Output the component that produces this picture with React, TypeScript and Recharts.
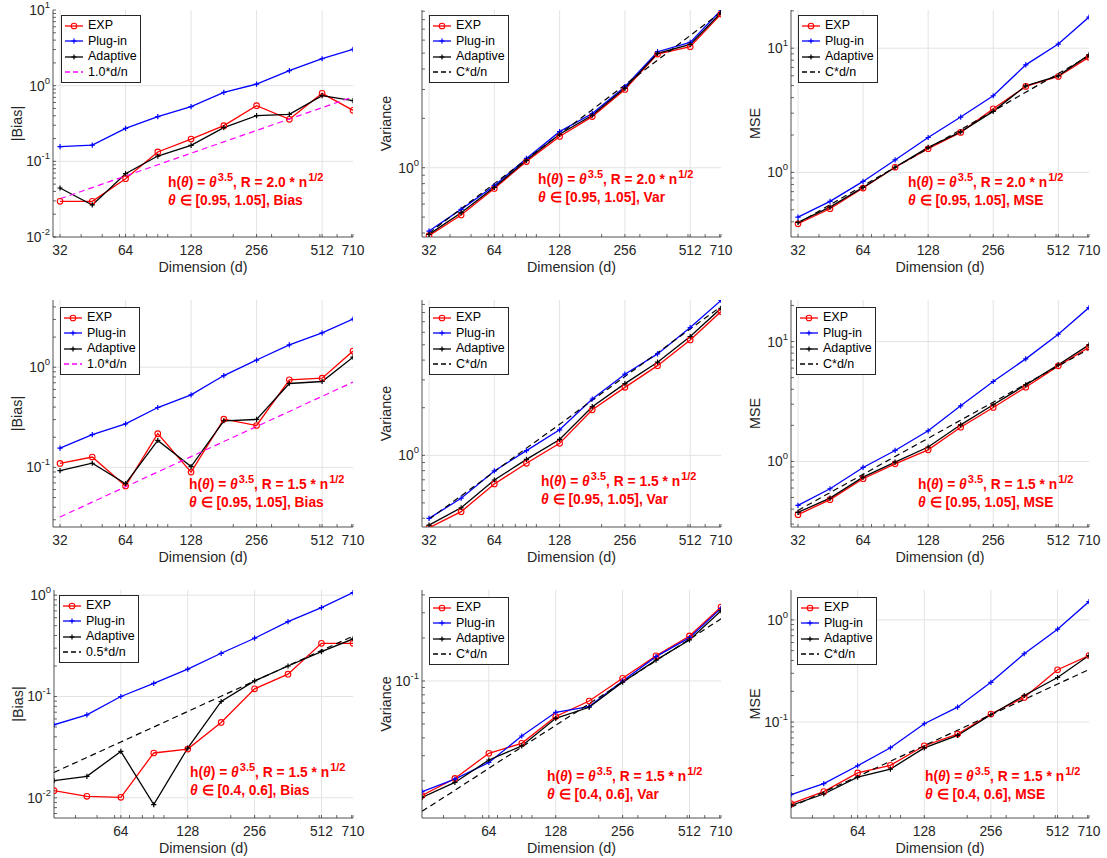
import React from 'react';
import { LineChart, Line, XAxis, YAxis, ReferenceLine, Legend } from 'recharts';

// ---------------- data ----------------
const DIMS = [32, 45, 64, 90, 128, 181, 256, 362, 512, 710];
const X_LABELS_FULL = [32, 64, 128, 256, 512, 710];
const X_LABELS_NO32 = [64, 128, 256, 512, 710];
const X_MINOR = [40, 50, 60, 70, 80, 90, 100, 200, 300, 400, 500, 600, 700];

// Row 1: R = 2.0, theta in [0.95, 1.05]
const A_EXP = [0.0296, 0.0297, 0.059, 0.133, 0.197, 0.296, 0.544, 0.359, 0.792, 0.472];
const A_PLUG = [0.156, 0.164, 0.273, 0.389, 0.528, 0.817, 1.05, 1.58, 2.27, 3.02];
const A_ADAPT = [0.0444, 0.0265, 0.0687, 0.1175, 0.163, 0.279, 0.401, 0.418, 0.738, 0.634];
const A_REF = [0.032, 0.045, 0.064, 0.09, 0.128, 0.181, 0.256, 0.362, 0.512, 0.71];

const B_EXP = [0.385, 0.515, 0.748, 1.09, 1.55, 2.05, 3.0, 4.93, 5.47, 8.65];
const B_PLUG = [0.411, 0.557, 0.777, 1.14, 1.66, 2.14, 3.12, 5.1, 5.81, 9.15];
const B_ADAPT = [0.392, 0.532, 0.759, 1.11, 1.6, 2.09, 3.06, 4.98, 5.65, 8.81];
const B_REF = [0.4, 0.5625, 0.8, 1.125, 1.6, 2.26, 3.2, 4.53, 6.4, 8.88];

const C_EXP = [0.386, 0.51, 0.748, 1.1, 1.55, 2.1, 3.25, 4.92, 5.92, 8.47];
const C_PLUG = [0.437, 0.585, 0.846, 1.26, 1.91, 2.79, 4.14, 7.34, 10.8, 17.8];
const C_ADAPT = [0.396, 0.526, 0.757, 1.1, 1.59, 2.12, 3.1, 4.98, 5.99, 8.84];
const C_REF = [0.39, 0.55, 0.78, 1.1, 1.56, 2.21, 3.12, 4.42, 6.25, 8.66];

// Row 2: R = 1.5, theta in [0.95, 1.05]
const D_EXP = [0.1096, 0.127, 0.0652, 0.217, 0.0898, 0.303, 0.262, 0.748, 0.777, 1.45];
const D_PLUG = [0.156, 0.212, 0.272, 0.396, 0.53, 0.826, 1.18, 1.67, 2.2, 3.03];
const D_ADAPT = [0.0927, 0.11, 0.0687, 0.186, 0.102, 0.292, 0.301, 0.688, 0.72, 1.26];
const D_REF = [0.032, 0.045, 0.064, 0.09, 0.128, 0.181, 0.256, 0.362, 0.512, 0.71];

const E_EXP = [0.348, 0.44, 0.659, 0.89, 1.19, 1.94, 2.69, 3.69, 5.37, 8.11];
const E_PLUG = [0.399, 0.535, 0.796, 1.07, 1.45, 2.27, 3.26, 4.38, 6.43, 9.53];
const E_ADAPT = [0.362, 0.466, 0.698, 0.943, 1.26, 2.03, 2.84, 3.88, 5.64, 8.51];
const E_REF = [0.394, 0.554, 0.787, 1.11, 1.57, 2.23, 3.15, 4.45, 6.3, 8.73];

const F_EXP = [0.36, 0.48, 0.717, 0.956, 1.25, 1.93, 2.82, 4.16, 6.27, 8.97];
const F_PLUG = [0.43, 0.592, 0.891, 1.235, 1.8, 2.91, 4.64, 7.17, 11.5, 19.2];
const F_ADAPT = [0.376, 0.495, 0.74, 0.987, 1.32, 2.02, 2.97, 4.35, 6.4, 9.38];
const F_REF = [0.39, 0.55, 0.78, 1.1, 1.56, 2.21, 3.12, 4.42, 6.25, 8.66];

// Row 3: R = 1.5, theta in [0.4, 0.6]
const G_EXP = [0.01177, 0.01035, 0.0101, 0.0277, 0.0303, 0.0555, 0.119, 0.166, 0.335, 0.335];
const G_PLUG = [0.0526, 0.0659, 0.1, 0.135, 0.186, 0.267, 0.376, 0.548, 0.753, 1.06];
const G_ADAPT = [0.01476, 0.0163, 0.0287, 0.00858, 0.031, 0.0893, 0.1426, 0.2, 0.277, 0.37];
const G_REF = [0.0178, 0.025, 0.0356, 0.05, 0.0712, 0.1006, 0.142, 0.201, 0.285, 0.394];

const H_EXP = [0.0158, 0.0208, 0.0312, 0.0366, 0.0564, 0.0724, 0.1044, 0.15, 0.2066, 0.329];
const H_PLUG = [0.0168, 0.0206, 0.0269, 0.0412, 0.0604, 0.0662, 0.1, 0.148, 0.201, 0.322];
const H_ADAPT = [0.0153, 0.0195, 0.028, 0.0351, 0.0548, 0.0655, 0.098, 0.14, 0.1936, 0.309];
const H_REF = [0.01225, 0.0172, 0.0245, 0.0345, 0.049, 0.0693, 0.098, 0.1387, 0.196, 0.272];

const I_EXP = [0.0159, 0.0209, 0.0318, 0.0378, 0.0587, 0.0763, 0.12, 0.174, 0.325, 0.448];
const I_PLUG = [0.0195, 0.025, 0.0374, 0.0561, 0.0964, 0.14, 0.245, 0.466, 0.811, 1.51];
const I_ADAPT = [0.01534, 0.0198, 0.029, 0.0347, 0.056, 0.074, 0.118, 0.182, 0.273, 0.448];
const I_REF = [0.0147, 0.0207, 0.0294, 0.0414, 0.0589, 0.0833, 0.1178, 0.1665, 0.2355, 0.3266];

// ---------------- style ----------------
const FONT = '"Liberation Sans", Arial, Helvetica, sans-serif';
const AX = '#262626';
const GRID = '#e3e3e3';
const RED = '#ff0000';
const BLUE = '#0000ff';
const BLACK = '#000000';
const MAGENTA = '#ff00ff';
const ML = 50, MT = 10, MR = 12, MB = 45;

type Panel = {
  key: string; left: number; top: number; w: number; h: number;
  xDomain: [number, number]; xLabels: number[];
  yDomain: [number, number]; yLabel: string;
  exp: number[]; plug: number[]; adapt: number[]; ref: number[];
  refName: string; refColor: string;
  r: string; range: string; kind: string;
  leg: [number, number]; ann: [number, number];
};

const X_ROW12: [number, number] = [29.7, 710];
const X_ROW3: [number, number] = [32, 710];

const PANELS: Panel[] = [
  { key: 'A', left: 53, top: 10, w: 300, h: 227, xDomain: X_ROW12, xLabels: X_LABELS_FULL, yDomain: [0.01, 10], yLabel: '|Bias|',
    exp: A_EXP, plug: A_PLUG, adapt: A_ADAPT, ref: A_REF, refName: '1.0*d/n', refColor: MAGENTA, r: '2.0', range: '[0.95, 1.05]', kind: 'Bias', leg: [8, 5], ann: [115, 173] },
  { key: 'B', left: 422, top: 10, w: 299, h: 227, xDomain: X_ROW12, xLabels: X_LABELS_FULL, yDomain: [0.378, 9.16], yLabel: 'Variance',
    exp: B_EXP, plug: B_PLUG, adapt: B_ADAPT, ref: B_REF, refName: 'C*d/n', refColor: BLACK, r: '2.0', range: '[0.95, 1.05]', kind: 'Var', leg: [7, 5], ann: [116, 170] },
  { key: 'C', left: 791, top: 10, w: 298, h: 227, xDomain: X_ROW12, xLabels: X_LABELS_FULL, yDomain: [0.302, 20.3], yLabel: 'MSE',
    exp: C_EXP, plug: C_PLUG, adapt: C_ADAPT, ref: C_REF, refName: 'C*d/n', refColor: BLACK, r: '2.0', range: '[0.95, 1.05]', kind: 'MSE', leg: [7, 5], ann: [117, 173] },
  { key: 'D', left: 53, top: 300, w: 300, h: 227, xDomain: X_ROW12, xLabels: X_LABELS_FULL, yDomain: [0.0254, 4.69], yLabel: '|Bias|',
    exp: D_EXP, plug: D_PLUG, adapt: D_ADAPT, ref: D_REF, refName: '1.0*d/n', refColor: MAGENTA, r: '1.5', range: '[0.95, 1.05]', kind: 'Bias', leg: [7, 7], ann: [136, 185] },
  { key: 'E', left: 422, top: 300, w: 299, h: 227, xDomain: X_ROW12, xLabels: X_LABELS_FULL, yDomain: [0.352, 9.6], yLabel: 'Variance',
    exp: E_EXP, plug: E_PLUG, adapt: E_ADAPT, ref: E_REF, refName: 'C*d/n', refColor: BLACK, r: '1.5', range: '[0.95, 1.05]', kind: 'Var', leg: [7, 7], ann: [119, 182] },
  { key: 'F', left: 791, top: 300, w: 298, h: 227, xDomain: X_ROW12, xLabels: X_LABELS_FULL, yDomain: [0.284, 22.2], yLabel: 'MSE',
    exp: F_EXP, plug: F_PLUG, adapt: F_ADAPT, ref: F_REF, refName: 'C*d/n', refColor: BLACK, r: '1.5', range: '[0.95, 1.05]', kind: 'MSE', leg: [5, 7], ann: [127, 185] },
  { key: 'G', left: 54, top: 590, w: 299, h: 228, xDomain: X_ROW3, xLabels: X_LABELS_NO32, yDomain: [0.00632, 1.125], yLabel: '|Bias|',
    exp: G_EXP, plug: G_PLUG, adapt: G_ADAPT, ref: G_REF, refName: '0.5*d/n', refColor: BLACK, r: '1.5', range: '[0.4, 0.6]', kind: 'Bias', leg: [5, 5], ann: [136, 183] },
  { key: 'H', left: 422, top: 590, w: 299, h: 228, xDomain: X_ROW3, xLabels: X_LABELS_NO32, yDomain: [0.011, 0.433], yLabel: 'Variance',
    exp: H_EXP, plug: H_PLUG, adapt: H_ADAPT, ref: H_REF, refName: 'C*d/n', refColor: BLACK, r: '1.5', range: '[0.4, 0.6]', kind: 'Var', leg: [7, 7], ann: [125, 187] },
  { key: 'I', left: 791, top: 590, w: 298, h: 228, xDomain: X_ROW3, xLabels: X_LABELS_NO32, yDomain: [0.01153, 1.96], yLabel: 'MSE',
    exp: I_EXP, plug: I_PLUG, adapt: I_ADAPT, ref: I_REF, refName: 'C*d/n', refColor: BLACK, r: '1.5', range: '[0.4, 0.6]', kind: 'MSE', leg: [6, 7], ann: [134, 187] },
];

// ---------------- helpers ----------------
const near = (a: number, b: number) => Math.abs(a - b) <= 1e-9 * Math.max(1, Math.abs(b));
const isDecade = (v: number) => { const l = Math.log10(v); return Math.abs(l - Math.round(l)) < 1e-6; };

function yTicks(lo: number, hi: number) {
  const out: number[] = [];
  for (let e = Math.floor(Math.log10(lo)); e <= Math.ceil(Math.log10(hi)); e++) {
    for (let m = 1; m <= 9; m++) {
      const v = m * Math.pow(10, e);
      if (v >= lo * 0.9999 && v <= hi * 1.0001) out.push(v);
    }
  }
  return out;
}
function xTicks(dom: [number, number], labels: number[]) {
  return [...labels, ...X_MINOR].filter(v => v >= dom[0] && v <= dom[1]).sort((a, b) => a - b);
}

const circleDot = (color: string) => (p: any) =>
  <circle key={`c${p.index}`} cx={p.cx} cy={p.cy} r={2.8} fill="none" stroke={color} strokeWidth={1.1} />;
const plusDot = (color: string) => (p: any) =>
  <path key={`p${p.index}`} d={`M${p.cx - 2.6},${p.cy}H${p.cx + 2.6}M${p.cx},${p.cy - 2.6}V${p.cy + 2.6}`} stroke={color} strokeWidth={1.2} fill="none" />;

const makeBottomTick = (labels: number[]) => (props: any) => {
  const { x, y, payload } = props;
  const v = payload.value;
  const lab = labels.some(l => near(l, v));
  return (
    <g>
      <line x1={x} x2={x} y1={y} y2={y - 3} stroke={AX} strokeWidth={0.7} />
      {lab && <text x={x} y={y + 18} textAnchor="middle" fontFamily={FONT} fontSize={13.8} fill={AX}>{v}</text>}
    </g>
  );
};
const TopTick = (props: any) => {
  const { x, y } = props;
  return <line x1={x} x2={x} y1={y} y2={y + 3} stroke={AX} strokeWidth={0.7} />;
};
const LeftTick = (props: any) => {
  const { x, y, payload } = props;
  const v = payload.value;
  const major = isDecade(v);
  const e = Math.round(Math.log10(v));
  return (
    <g>
      <line x1={x} x2={x + 3} y1={y} y2={y} stroke={AX} strokeWidth={0.7} />
      {major && (
        <text x={x - 3} y={y + 5} textAnchor="end" fontFamily={FONT} fontSize={13.8} fill={AX}>
          <tspan>10</tspan>
          <tspan dy={-7} fontSize={9.5}>{e}</tspan>
        </text>
      )}
    </g>
  );
};
const RightTick = (props: any) => {
  const { x, y } = props;
  return <line x1={x} x2={x - 3} y1={y} y2={y} stroke={AX} strokeWidth={0.7} />;
};

const LegendSample = ({ color, marker, dashed }: { color: string; marker: 'o' | '+' | null; dashed?: boolean }) => (
  <svg width={18} height={10} style={{ display: 'block' }}>
    <line x1={0} x2={18} y1={5} y2={5} stroke={color} strokeWidth={1.3} strokeDasharray={dashed ? '5 3' : undefined} />
    {marker === 'o' && <circle cx={9} cy={5} r={2.8} fill="none" stroke={color} strokeWidth={1.1} />}
    {marker === '+' && <path d="M6.4,5H11.6M9,2.4V7.6" stroke={color} strokeWidth={1.2} />}
  </svg>
);

const LegendBox = ({ p }: { p: Panel }) => {
  const items = [
    { name: 'EXP', color: RED, marker: 'o' as const },
    { name: 'Plug-in', color: BLUE, marker: '+' as const },
    { name: 'Adaptive', color: BLACK, marker: '+' as const },
    { name: p.refName, color: p.refColor, marker: null, dashed: true },
  ];
  return (
    <div style={{ border: `1px solid ${AX}`, background: '#fff', padding: '2px 3px 2px 3px', fontFamily: FONT, fontSize: 12.5, color: '#000', lineHeight: '15.5px' }}>
      {items.map(it => (
        <div key={it.name} style={{ display: 'flex', alignItems: 'center', height: 15.5 }}>
          <LegendSample color={it.color} marker={it.marker} dashed={(it as any).dashed} />
          <span style={{ marginLeft: 5, whiteSpace: 'nowrap' }}>{it.name}</span>
        </div>
      ))}
    </div>
  );
};

const SUP: React.CSSProperties = { fontSize: '0.8em', position: 'relative', top: '-0.5em', verticalAlign: 'baseline', marginLeft: 1 };

function PanelChart({ p }: { p: Panel }) {
  const W = p.w + ML + MR;
  const H = p.h + MT + MB;
  const rows = DIMS.map((d, i) => ({ d, exp: p.exp[i], plug: p.plug[i], adapt: p.adapt[i], ref: p.ref[i] }));
  const xt = xTicks(p.xDomain, p.xLabels);
  const yt = yTicks(p.yDomain[0], p.yDomain[1]);
  const xGrid = (p.xDomain[0] < 32 ? X_LABELS_FULL : X_LABELS_NO32).filter(v => v > p.xDomain[0] && v < p.xDomain[1]);
  const yGrid = yt.filter(v => isDecade(v) && v > p.yDomain[0] * 1.001 && v < p.yDomain[1] * 0.999);
  const cx = ML + p.w / 2;
  const cy = MT + p.h / 2;
  return (
    <div style={{ position: 'absolute', left: p.left - ML, top: p.top - MT, width: W, height: H }}>
      <LineChart width={W} height={H} data={rows} margin={{ top: MT, right: MR, left: 0, bottom: 0 }}>
        <XAxis dataKey="d" type="number" scale="log" domain={p.xDomain} allowDataOverflow ticks={xt} interval={0}
          height={MB} tickSize={0} tickMargin={0} tickLine={false} axisLine={{ stroke: AX, strokeWidth: 0.8 }}
          tick={makeBottomTick(p.xLabels)}
          label={() => <text x={cx} y={MT + p.h + 35} textAnchor="middle" fontFamily={FONT} fontSize={14.3} fill={AX}>Dimension (d)</text>} />
        <XAxis xAxisId="top" orientation="top" dataKey="d" type="number" scale="log" domain={p.xDomain} allowDataOverflow ticks={xt} interval={0}
          height={0} tickSize={0} tickMargin={0} tickLine={false} axisLine={{ stroke: AX, strokeWidth: 0.8 }} tick={TopTick} />
        <YAxis scale="log" domain={p.yDomain} allowDataOverflow ticks={yt} interval={0} width={ML}
          tickSize={0} tickMargin={0} tickLine={false} axisLine={{ stroke: AX, strokeWidth: 0.8 }} tick={LeftTick}
          label={() => <text x={14} y={cy} transform={`rotate(-90 14 ${cy})`} textAnchor="middle" dominantBaseline="central" fontFamily={FONT} fontSize={14.3} fill={AX}>{p.yLabel}</text>} />
        <YAxis yAxisId="right" orientation="right" scale="log" domain={p.yDomain} allowDataOverflow ticks={yt} interval={0} width={0}
          tickSize={0} tickMargin={0} tickLine={false} axisLine={{ stroke: AX, strokeWidth: 0.8 }} tick={RightTick} />
        {xGrid.map(v => <ReferenceLine key={`gx${v}`} x={v} stroke={GRID} strokeWidth={1} />)}
        {yGrid.map(v => <ReferenceLine key={`gy${v}`} y={v} stroke={GRID} strokeWidth={1} />)}
        <Line dataKey="exp" name="EXP" stroke={RED} strokeWidth={1.3} dot={circleDot(RED)} activeDot={false} isAnimationActive={false} />
        <Line dataKey="plug" name="Plug-in" stroke={BLUE} strokeWidth={1.3} dot={plusDot(BLUE)} activeDot={false} isAnimationActive={false} />
        <Line dataKey="adapt" name="Adaptive" stroke={BLACK} strokeWidth={1.3} dot={plusDot(BLACK)} activeDot={false} isAnimationActive={false} />
        <Line dataKey="ref" name={p.refName} stroke={p.refColor} strokeWidth={1.2} strokeDasharray="6 4" dot={false} activeDot={false} isAnimationActive={false} />
        <Legend layout="vertical" align="center" verticalAlign="middle"
          wrapperStyle={{ left: ML + p.leg[0], top: MT + p.leg[1], width: 'auto', height: 'auto' }}
          content={() => <LegendBox p={p} />} />
      </LineChart>
      <div style={{ position: 'absolute', left: ML + p.ann[0], top: MT + p.ann[1] - 9, color: RED, fontWeight: 'bold', fontFamily: FONT, fontSize: 13.8, lineHeight: '18px', whiteSpace: 'nowrap', pointerEvents: 'none' }}>
        <div>h(<i>θ</i>) = <i>θ</i><sup style={SUP}>3.5</sup>, R = {p.r} * n<sup style={SUP}>1/2</sup></div>
        <div><i>θ</i> ∈ {p.range}, {p.kind}</div>
      </div>
    </div>
  );
}

export default function App() {
  return (
    <div style={{ position: 'absolute', left: 0, top: 0, width: 1107, height: 858, background: '#fff' }}>
      {PANELS.map(p => <PanelChart key={p.key} p={p} />)}
    </div>
  );
}
